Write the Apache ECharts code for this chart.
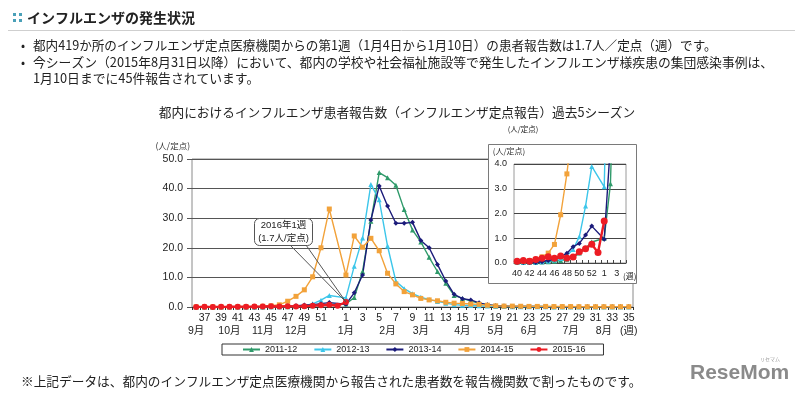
<!DOCTYPE html>
<html>
<head>
<meta charset="utf-8">
<script src="https://cdn.jsdelivr.net/npm/echarts@6/dist/echarts.min.js"></script>
<style>
  html, body { margin: 0; padding: 0; background: #fff; }
  #flu { width: 800px; height: 398px; }
</style>
</head>
<body>
<div id="flu"></div>
<script>
// 週番号（9月 第36週 〜 翌年8月 第35週）
const weeks = [36, 37, 38, 39, 40, 41, 42, 43, 44, 45, 46, 47, 48, 49, 50, 51, 52, 53,
  1, 2, 3, 4, 5, 6, 7, 8, 9, 10, 11, 12, 13, 14, 15, 16, 17, 18, 19, 20,
  21, 22, 23, 24, 25, 26, 27, 28, 29, 30, 31, 32, 33, 34, 35];

// 月ラベル（どの週の下に出すか）
const monthWeeks = [36, 40, 44, 48, 1, 6, 10, 15, 19, 23, 28, 32, 35];
const monthLabels = ["9月", "10月", "11月", "12月", "1月", "2月", "3月", "4月", "5月", "6月", "7月", "8月", "(週)"];

const yTicks = [0, 10, 20, 30, 40, 50];
const insetTicks = [0, 1, 2, 3, 4];

// 人/定点
const s2011 = [0.02, 0.02, 0.02, 0.02, 0.02, 0.02, 0.02, 0.02, 0.04, 0.05, 0.07, 0.1, 0.15, 0.25, 0.4, 0.6, 0.85, null,
  1.0, 3.2, 12.0, 29.0, 45.4, 43.7, 41.1, 32.9, 26.0, 22.0, 16.8, 12.0, 8.0, 3.9, 2.9, 2.0, 1.3, 0.7, 0.4, 0.3,
  0.2, 0.2, 0.2, 0.15, 0.15, 0.1, 0.1, 0.1, 0.1, 0.1, 0.1, 0.1, 0.1, 0.1, 0.1];
const s2012 = [0.03, 0.03, 0.03, 0.03, 0.03, 0.03, 0.03, 0.03, 0.05, 0.08, 0.12, 0.18, 0.3, 0.55, 1.06, 2.3, 3.9, null,
  3.08, 13.8, 23.3, 41.4, 36.2, 20.6, 8.7, 6.2, 4.5, 3.3, 2.5, 1.9, 1.3, 0.8, 0.6, 0.5, 0.4, 0.3, 0.2, 0.15,
  0.1, 0.1, 0.1, 0.1, 0.1, 0.1, 0.1, 0.1, 0.1, 0.1, 0.1, 0.1, 0.1, 0.1, 0.1];
const s2013 = [0.02, 0.02, 0.02, 0.02, 0.02, 0.02, 0.02, 0.02, 0.05, 0.1, 0.15, 0.25, 0.39, 0.66, 0.79, 1.13, 1.49, null,
  0.96, 4.8, 10.8, 29.4, 40.9, 34.1, 28.3, 28.3, 28.6, 22.5, 20.0, 14.4, 8.8, 4.3, 2.8, 2.4, 1.4, 0.8, 0.4, 0.3,
  0.2, 0.2, 0.15, 0.15, 0.1, 0.1, 0.1, 0.1, 0.1, 0.1, 0.1, 0.1, 0.1, 0.1, 0.1];
const s2014 = [0.05, 0.05, 0.05, 0.05, 0.05, 0.07, 0.1, 0.15, 0.25, 0.4, 0.75, 1.95, 3.6, 5.8, 10.2, 20.0, 33.1, null,
  10.8, 24.0, 20.2, 23.2, 19.0, 11.4, 7.8, 5.2, 4.1, 2.9, 2.4, 2.1, 1.6, 1.3, 1.2, 1.0, 0.9, 0.6, 0.4, 0.3,
  0.3, 0.25, 0.2, 0.2, 0.2, 0.15, 0.15, 0.15, 0.1, 0.1, 0.1, 0.1, 0.1, 0.1, 0.1];
const s2015 = [0.04, 0.05, 0.04, 0.05, 0.07, 0.1, 0.07, 0.14, 0.19, 0.25, 0.19, 0.28, 0.2, 0.24, 0.45, 0.58, 0.76, 0.42,
  1.7];

const seasons = ["2011-12", "2012-13", "2013-14", "2014-15", "2015-16"];
const seasonData = [s2011, s2012, s2013, s2014, s2015];
const colors = ["#2f9a6a", "#3cc6ea", "#1b1b7a", "#f2a23a", "#ec1c24"];
const symbols = ["triangle", "triangle", "diamond", "rect", "circle"];

// 拡大図：第40週〜第4週
const insetFrom = weeks.indexOf(40);
const insetTo = weeks.indexOf(4) + 1;
const insetWeeks = weeks.slice(insetFrom, insetTo);

const FONT = "'Liberation Sans', 'Noto Sans CJK JP', sans-serif";
const JP = "'Noto Sans CJK JP', sans-serif";

let chart = echarts.init(document.getElementById("flu"));

function makeSeries(i, inset) {
  let red = i === 4;
  return {
    name: seasons[i],
    type: "line",
    xAxisIndex: inset ? 2 : 0,
    yAxisIndex: inset ? 1 : 0,
    data: inset ? seasonData[i].slice(insetFrom, insetTo) : seasonData[i],
    connectNulls: true,
    symbol: symbols[i],
    symbolSize: red ? (inset ? 7 : 6) : 5,
    showAllSymbol: true,
    animation: false,
    z: inset ? 6 : 2,
    lineStyle: { color: colors[i], width: red ? 2.4 : 1.4 },
    itemStyle: { color: colors[i] },
  };
}

let series = [];
for (let i = 0; i < seasons.length; i++) series.push(makeSeries(i, false));
for (let i = 0; i < seasons.length; i++) series.push(makeSeries(i, true));

let option = {
  animation: false,
  textStyle: { fontFamily: FONT },
  grid: [
    { left: 192, top: 159, width: 441, height: 148, show: true, borderColor: "#8a8a8a", borderWidth: 1 },
    { left: 514, top: 164, width: 112, height: 99, show: true, borderColor: "#9a9a9a", borderWidth: 1, z: 4 },
  ],
  xAxis: [
    {
      type: "category",
      gridIndex: 0,
      data: weeks,
      boundaryGap: true,
      axisLine: { lineStyle: { color: "#333" } },
      axisTick: { show: true, interval: 0, length: 3, lineStyle: { color: "#333" } },
      axisLabel: {
        interval: 0,
        margin: 6,
        fontSize: 10.5,
        color: "#222",
        formatter: (v) => (v % 2 === 1 && v != 53 ? v : ""),
      },
    },
    {
      // 月の行
      type: "category",
      gridIndex: 0,
      position: "bottom",
      offset: 13,
      data: weeks,
      axisLine: { show: false },
      axisTick: { show: false },
      axisLabel: {
        interval: 0,
        margin: 6,
        fontSize: 10.5,
        color: "#222",
        formatter: (v) => {
          let k = monthWeeks.indexOf(Number(v));
          return k >= 0 ? monthLabels[k] : "";
        },
      },
    },
    {
      type: "category",
      gridIndex: 1,
      data: insetWeeks,
      z: 4,
      axisLine: { lineStyle: { color: "#444" } },
      axisTick: { show: true, inside: true, interval: 0, length: 3, lineStyle: { color: "#444" } },
      axisLabel: {
        interval: 0,
        margin: 6,
        fontSize: 9,
        color: "#222",
        formatter: (v) => (v >= 36 ? (v % 2 === 0 ? v : "") : (v % 2 === 1 ? v : "")),
      },
    },
  ],
  yAxis: [
    {
      type: "value",
      gridIndex: 0,
      min: yTicks[0],
      max: yTicks[yTicks.length - 1],
      interval: 10,
      name: "(人/定点)",
      nameGap: 9,
      nameTextStyle: { fontSize: 8.5, color: "#333", align: "right", padding: [0, 2, 0, 0], fontFamily: JP },
      axisLine: { show: false },
      axisTick: { show: true, length: 5, lineStyle: { color: "#555" } },
      axisLabel: { margin: 9, fontSize: 10.5, color: "#222", formatter: (v) => v.toFixed(1) },
      splitLine: { lineStyle: { color: "#555", width: 1 } },
    },
    {
      type: "value",
      gridIndex: 1,
      min: insetTicks[0],
      max: insetTicks[insetTicks.length - 1],
      interval: 1,
      z: 4,
      name: "(人/定点)",
      nameGap: 9,
      nameTextStyle: { fontSize: 8, color: "#333", padding: [0, 10, 0, 0], fontFamily: JP },
      axisLine: { show: false },
      axisTick: { show: false },
      axisLabel: { margin: 7, fontSize: 9, color: "#222", formatter: (v) => v.toFixed(1) },
      splitLine: { lineStyle: { color: "#444", width: 1 } },
    },
  ],
  legend: {
    left: 222,
    top: 344,
    data: seasons,
    width: 363,
    itemWidth: 17,
    itemHeight: 6,
    itemGap: 16,
    padding: [1, 18, 1, 20],
    borderColor: "#333",
    borderWidth: 1,
    backgroundColor: "#fff",
    textStyle: { fontSize: 9, color: "#222" },
  },
  series: series,
};

chart.setOption(option);

// 吹き出しの先端は 2016年第1週 のデータ点
const tipIdx = weeks.indexOf(1);
const tip = chart.convertToPixel({ xAxisIndex: 0, yAxisIndex: 0 }, [tipIdx, s2015[tipIdx]]);

function txt(id, x, y, text, font, opts) {
  return {
    type: "text", id: id, x: x, y: y, z: 20,
    style: Object.assign({ text: text, font: font, fill: "#222", align: "left", verticalAlign: "middle",
      textAlign: "left", textVerticalAlign: "middle" }, opts || {}),
  };
}

chart.setOption({
  graphic: {
    elements: [
      { type: "rect", id: "ic1", shape: { x: 13, y: 13, width: 3, height: 3 }, style: { fill: "#4aa0b8" } },
      { type: "rect", id: "ic2", shape: { x: 19, y: 13, width: 3, height: 3 }, style: { fill: "#4aa0b8" } },
      { type: "rect", id: "ic3", shape: { x: 13, y: 19, width: 3, height: 3 }, style: { fill: "#4aa0b8" } },
      { type: "rect", id: "ic4", shape: { x: 19, y: 19, width: 3, height: 3 }, style: { fill: "#4aa0b8" } },
      txt("head", 27, 18, "インフルエンザの発生状況", "bold 14px " + JP),
      { type: "line", id: "sep", shape: { x1: 8, y1: 30.5, x2: 795, y2: 30.5 }, style: { stroke: "#cfcfcf", lineWidth: 1 } },
      txt("b1", 21, 45, "•", "12px " + JP),
      txt("t1", 33, 45, "都内419か所のインフルエンザ定点医療機関からの第1週（1月4日から1月10日）の患者報告数は1.7人／定点（週）です。", "12.6px " + JP),
      txt("b2", 21, 62, "•", "12px " + JP),
      txt("t2", 33, 62, "今シーズン（2015年8月31日以降）において、都内の学校や社会福祉施設等で発生したインフルエンザ様疾患の集団感染事例は、", "12.8px " + JP),
      txt("t3", 33, 78, "1月10日までに45件報告されています。", "12.8px " + JP),
      txt("title", 397, 112, "都内におけるインフルエンザ患者報告数（インフルエンザ定点報告）過去5シーズン", "12.7px " + JP,
        { align: "center", textAlign: "center" }),
      txt("unit2", 523, 129, "(人/定点)", "7.5px " + JP, { align: "center", textAlign: "center" }),
      // 拡大図の枠
      { type: "rect", id: "insetBox", z: 3, shape: { x: 488.5, y: 144.5, width: 148, height: 139 },
        style: { fill: "#fff", stroke: "#7a7a7a", lineWidth: 1 } },
      txt("insetWk", 623, 276, "(週)", "8px " + JP),
      // 吹き出し
      { type: "polyline", id: "ptr", z: 10, shape: { points: [[290, 245], tip, [306, 245]] },
        style: { stroke: "#555", lineWidth: 1, fill: null } },
      { type: "rect", id: "callout", z: 11, shape: { x: 254.5, y: 218.5, width: 58, height: 27, r: 5 },
        style: { fill: "#fff", stroke: "#555", lineWidth: 1 } },
      txt("c1", 283.5, 225.5, "2016年1週", "9.5px " + FONT, { align: "center", textAlign: "center" }),
      txt("c2", 283.5, 238, "(1.7人/定点)", "9.5px " + FONT, { align: "center", textAlign: "center" }),
      txt("foot", 21, 381, "※上記データは、都内のインフルエンザ定点医療機関から報告された患者数を報告機関数で割ったものです。", "12.7px " + JP),
      txt("logo", 690, 373, "ReseMom", "bold 21px 'Liberation Sans', sans-serif", { fill: "#8a8a8a" }),
      txt("logoKana", 770, 359, "リセマム", "5px " + JP, { fill: "#999", align: "center", textAlign: "center" }),
    ],
  },
});
</script>
</body>
</html>
